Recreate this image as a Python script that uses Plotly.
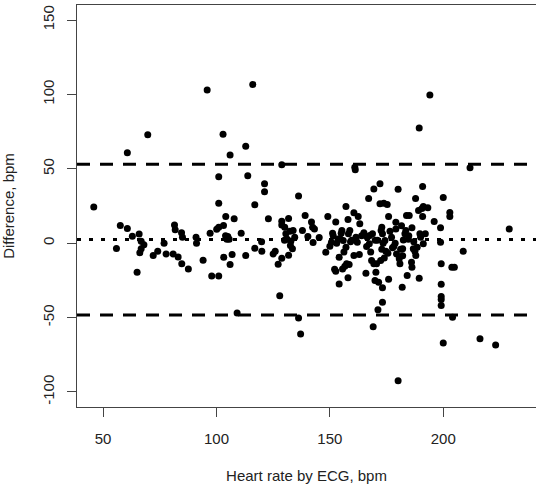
import plotly.graph_objects as go

# Heart rate by ECG (bpm) and difference (bpm)
hr_ecg = [45.9, 55.9, 57.6, 60.7, 60.7, 62.9, 65.0, 65.9, 66.2, 66.8, 66.8, 69.7, 72.1, 74.1, 76.9,
          77.8, 80.9, 81.5, 81.8, 83.1, 84.6, 85.0, 84.7, 87.6, 91.0, 91.2, 94.1, 95.9, 97.2, 97.9,
          101.0, 100.1, 101.0, 101.0, 101.0, 102.9, 103.1, 103.2, 104.1, 104.6, 105.0, 105.6, 106.0,
          106.0, 106.9, 107.8, 109.1, 110.9, 112.9, 112.9, 113.8, 116.0, 116.9, 116.9, 119.9, 120.0,
          121.2, 121.2, 122.9, 125.0, 125.9, 127.2, 127.9, 128.8, 128.8, 128.8, 128.8, 130.1, 130.6,
          131.2, 131.8, 131.8, 132.4, 132.6, 133.5, 133.8, 132.8, 136.2, 136.2, 137.1, 137.9, 139.1,
          140.3, 141.9, 142.4, 142.6, 143.2, 145.3, 148.2, 149.1, 150.7, 151.2, 151.5, 152.1, 152.6,
          152.6, 153.7, 154.1, 154.1, 155.0, 155.3, 155.9, 155.6, 156.6, 157.1, 157.1, 157.4, 158.0,
          158.0, 158.2, 158.5, 158.8, 159.1, 160.6, 161.0, 161.2, 160.6, 161.5, 162.1, 162.5, 163.0,
          163.2, 165.9, 166.2, 166.5, 167.1, 167.4, 167.6, 168.4, 168.8, 169.1, 169.4, 169.4, 169.9,
          170.3, 170.6, 171.2, 171.5, 172.1, 172.1, 172.4, 172.6, 172.9, 173.2, 172.9, 173.2, 173.2,
          173.5, 173.8, 174.3, 174.7, 175.3, 175.6, 175.9, 175.9, 177.2, 177.6, 178.2, 179.1, 179.1,
          179.4, 180.1, 180.1, 180.6, 180.9, 181.6, 181.9, 182.1, 182.1, 182.4, 183.1, 183.5, 183.8,
          184.1, 184.6, 185.0, 186.0, 186.2, 186.2, 186.8, 187.5, 187.8, 187.9, 188.5, 189.1, 189.4,
          189.4, 189.7, 190.0, 190.6, 190.9, 190.9, 191.2, 191.2, 192.1, 193.2, 194.1, 196.0, 198.8,
          198.8, 199.1, 199.1, 199.1, 199.1, 199.1, 200.0, 200.0, 202.9, 202.9, 203.8, 204.9, 204.1,
          208.8, 211.8, 216.2, 223.1, 229.1,
          154.5, 156.2, 159.6, 164.0, 168.0, 171.0, 174.0, 176.5, 178.8, 181.2, 184.8, 187.0, 170.0,
          165.0, 153.0, 150.0, 134.5, 130.0, 104.0, 68.0]
difference = [24.4, -3.6, 11.9, 60.8, 9.9, 4.7, -19.5, 6.1, -6.5, -3.8, 1.3, 72.9, -8.3, -5.4, 0.0,
              -7.2, -7.2, 12.3, 9.0, -9.2, 7.0, 4.0, -13.9, -17.3, 4.0, 0.0, -11.4, 102.9, 6.7, -22.0,
              -22.0, 9.4, 10.8, 44.6, 26.9, 73.3, 11.9, -9.4, 17.9, 2.7, 4.5, 2.7, 59.2,
              -14.3, -7.6, 16.4, -46.9, 6.7, 65.2, -8.3, 45.3, 106.7, 25.8, -3.4, 0.9, -5.4,
              39.9, 34.5, 16.4, -7.2, -5.4, -14.1, -35.4, 52.7, 14.8, 12.3, -10.1, 10.8, 6.3,
              2.7, 16.6, -8.1, 8.1, -1.6, -3.8, 8.5, 1.3, 31.8, -50.2, -61.0, 8.5, 18.6,
              4.5, 14.3, 10.8, 0.4, 9.6, 3.8, -6.1, 17.9, 0.7, 6.7, 4.9, -17.5, 14.3,
              -18.8, 2.9, -9.4, -27.4, 6.7, 8.5, 1.8, -17.3, -15.5, 24.7, -2.7, -13.9, 15.9,
              -23.3, 6.3, -14.3, 8.5, 0.9, 20.4, 51.1, 49.3, -8.3, 4.0, 0.7, 17.9, -7.6,
              13.0, -20.2, -2.2, 4.0, 30.0, -0.4, 5.2, -11.7, 6.3, -56.1, -13.9, 36.5, -25.1,
              -19.5, -13.9, -44.8, -26.2, 39.9, 26.5, -11.7, 8.5, -4.0, 6.3, 10.8, -30.0, -39.7,
              0.0, 26.9, 1.8, -5.4, 26.0, -6.7, 17.9, -24.2, 4.0, -3.1, -2.2, 14.1, 9.6,
              -7.2, 36.3, -92.4, -10.5, -13.9, 11.7, -29.6, -3.8, -8.5, 2.2, 6.3, 8.5, 18.6,
              -21.7, 2.7, 18.6, -12.8, -16.1, 10.3, -3.8, -5.4, 30.0, -8.3, -2.7, 22.0, -23.5,
              77.4, 6.3, 4.0, 23.3, 38.1, 17.9, -0.4, 24.7, 6.3, 23.8, 99.6, 14.6, 10.3,
              0.7, -13.9, -27.6, -35.9, -37.9, -41.9, 30.7, -67.0, 20.6, 17.9, -16.1, -16.1, -49.8,
              -5.4, 50.7, -64.3, -68.4, 9.6,
              3.0, -6.0, 2.0, 5.0, -6.0, 2.0, -10.0, 8.0, 0.0, -4.0, 5.0, 1.0, 2.0,
              7.0, 0.0, -2.0, 4.0, 2.0, 5.0, -1.0]

mean_diff = 2.5
upper_loa = 53.0
lower_loa = -48.3

x_ticks = [50, 100, 150, 200]
y_ticks = [-100, -50, 0, 50, 100, 150]
y_tick_labels = ["-100", "-50", "0", "50", "100", "150"]

fig = go.Figure()
fig.add_trace(go.Scatter(x=hr_ecg, y=difference, mode="markers",
                         marker=dict(color="black", size=7, line=dict(width=0)),
                         showlegend=False, hoverinfo="x+y"))

for val, dash in [(upper_loa, "13px,10px"), (lower_loa, "13px,10px"), (mean_diff, "4px,8px")]:
    fig.add_shape(type="line", xref="paper", x0=0, x1=1, yref="y", y0=val, y1=val,
                  line=dict(color="black", width=3, dash=dash))

axis_font = dict(family="Liberation Sans, Arial, sans-serif", size=15, color="#222222")

fig.update_layout(
    width=536, height=487,
    margin=dict(l=77, r=0, t=5, b=80),
    paper_bgcolor="white", plot_bgcolor="white",
    font=axis_font,
    xaxis=dict(range=[38.5, 240.9], tickvals=x_ticks, ticks="outside", ticklen=9,
               tickcolor="#444", showline=True, linecolor="#444", linewidth=1, mirror=True,
               showgrid=False, zeroline=False, tickfont=axis_font, automargin=False,
               ticklabelstandoff=9,
               title=dict(text="Heart rate by ECG, bpm", font=axis_font, standoff=24)),
    yaxis=dict(range=[-110.1, 160.1], tickvals=y_ticks, ticktext=y_tick_labels,
               ticks="outside", ticklen=9,
               tickcolor="#444", showline=True, linecolor="#444", linewidth=1,
               showgrid=False, zeroline=False, tickangle=-90, tickfont=axis_font, automargin=False,
               ticklabelstandoff=7,
               title=dict(text="Difference, bpm", font=axis_font, standoff=22)),
)

fig.write_html("out.html", config={"displayModeBar": False},
               post_script="document.body.style.margin='0';document.body.style.overflow='hidden';")
